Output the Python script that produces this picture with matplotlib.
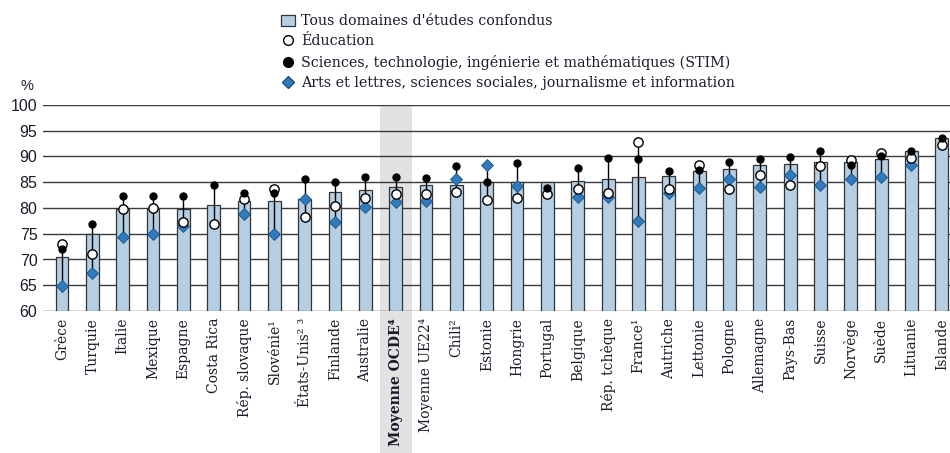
import numpy as np
import matplotlib.pyplot as plt
from matplotlib.patches import Patch, Rectangle
from matplotlib.lines import Line2D
import matplotlib.transforms as mtransforms

countries = ['Grèce', 'Turquie', 'Italie', 'Mexique', 'Espagne', 'Costa Rica',
             'Rép. slovaque', 'Slovénie¹', 'États-Unis² ³', 'Finlande', 'Australie',
             'Moyenne OCDE⁴', 'Moyenne UE22⁴', 'Chili²', 'Estonie', 'Hongrie',
             'Portugal', 'Belgique', 'Rép. tchèque', 'France¹', 'Autriche',
             'Lettonie', 'Pologne', 'Allemagne', 'Pays-Bas', 'Suisse', 'Norvège',
             'Suède', 'Lituanie', 'Islande']
total = [70.4, 75.0, 79.9, 80.0, 79.8, 80.6, 81.4, 81.4, 81.8, 83.2, 83.5,
         84.1, 84.4, 84.4, 85.0, 85.0, 85.0, 85.3, 85.6, 86.1, 86.2, 87.2,
         87.6, 88.3, 88.5, 88.9, 89.0, 89.5, 91.1, 93.6]
edu = [73.0, 71.1, 79.8, 80.0, 77.2, 76.8, 81.7, 83.6, 78.3, 80.3, 81.9,
       82.8, 82.7, 83.1, 81.6, 82.0, 82.8, 83.6, 82.9, 92.9, 83.7, 88.4,
       83.7, 86.5, 84.5, 88.2, 89.3, 90.6, 89.8, 92.3]
stim = [72.0, 76.8, 82.4, 82.4, 82.3, 84.5, 82.9, 82.9, 85.7, 85.0, 86.1,
        86.1, 85.8, 88.2, 85.1, 88.8, 83.9, 87.8, 89.7, 89.5, 87.2, 87.4,
        89.0, 89.6, 89.9, 91.1, 88.3, 90.0, 91.1, 93.5]
arts = [64.9, 67.4, 74.3, 74.9, 76.6, np.nan, 78.8, 74.9, 81.7, 77.3, 80.2,
        81.2, 81.3, 85.6, 88.4, 84.3, np.nan, 82.1, 82.2, 77.5, 83.0, 83.9,
        85.6, 84.1, 86.4, 84.5, 85.7, 86.1, 88.3, np.nan]

bar_col = '#b4cfe4'
dia_col = '#2f7bbd'
txt_col = '#1a1a2a'

x = np.arange(len(countries))
allv = np.array([edu, stim, arts], dtype=float)
lo = np.nanmin(allv, axis=0)
hi = np.nanmax(allv, axis=0)

fig = plt.figure(figsize=(9.5, 4.53), dpi=100)
ax = fig.add_axes([43/950, 1 - 311/453, 907/950, 206/453])

oecd = countries.index('Moyenne OCDE⁴')
trans = mtransforms.blended_transform_factory(ax.transData, ax.transAxes)
ax.add_patch(Rectangle((oecd - 0.53, -0.7), 1.06, 1.7, transform=trans,
                       facecolor='#e2e2e2', edgecolor='none', clip_on=False, zorder=0))

for v in range(60, 101, 5):
    ax.axhline(v, color='#3a3a3a', lw=1.0, zorder=1)

ax.bar(x, np.array(total) - 60, bottom=60, width=0.42, color=bar_col,
       edgecolor='#333333', linewidth=0.9, zorder=2)
ax.vlines(x, lo, hi, color='black', lw=1.0, zorder=3)
ax.plot(x, arts, 'D', ms=6, mfc=dia_col, mec='#1f4f80', mew=0.6, ls='none', zorder=4)
ax.plot(x, edu, 'o', ms=6.7, mfc='white', mec='black', mew=1.0, ls='none', zorder=5)
ax.plot(x, stim, 'o', ms=5, mfc='black', mec='black', ls='none', zorder=6)

ax.set_xlim(-0.63, 29.27)
ax.set_ylim(60, 100)
ax.set_yticks(range(60, 101, 5))
ax.tick_params(axis='y', length=0, pad=4, labelsize=11.5, labelcolor=txt_col)
for lab in ax.get_yticklabels():
    lab.set_family('Liberation Sans')
ax.set_xticks(x)
ax.set_xticklabels(countries, rotation=90, family='DejaVu Serif', fontsize=10,
                   color=txt_col, va='top', ha='center')
ax.get_xticklabels()[oecd].set_fontweight('bold')
ax.tick_params(axis='x', length=0, pad=5)
for s in ax.spines.values():
    s.set_visible(False)

fig.text(27/950, 1 - 86/453, '%', family='Liberation Sans', fontsize=10.5,
         color=txt_col, ha='center', va='center')

handles = [Patch(facecolor=bar_col, edgecolor='#333333', linewidth=0.9),
           Line2D([], [], marker='o', ls='none', ms=7, mfc='white', mec='black'),
           Line2D([], [], marker='o', ls='none', ms=7, mfc='black', mec='black'),
           Line2D([], [], marker='D', ls='none', ms=6.5, mfc=dia_col, mec='#1f4f80')]
labels = ["Tous domaines d'études confondus", 'Éducation',
          'Sciences, technologie, ingénierie et mathématiques (STIM)',
          'Arts et lettres, sciences sociales, journalisme et information']
fig.legend(handles, labels, loc='upper left', bbox_to_anchor=(281/950, 1 - 14/453),
           frameon=False, prop={'family': 'DejaVu Serif', 'size': 10.3},
           labelcolor=txt_col, handlelength=1.0, handleheight=0.8,
           handletextpad=0.4, labelspacing=0.45, borderpad=0, borderaxespad=0)

fig.savefig('out.png', dpi=100)
